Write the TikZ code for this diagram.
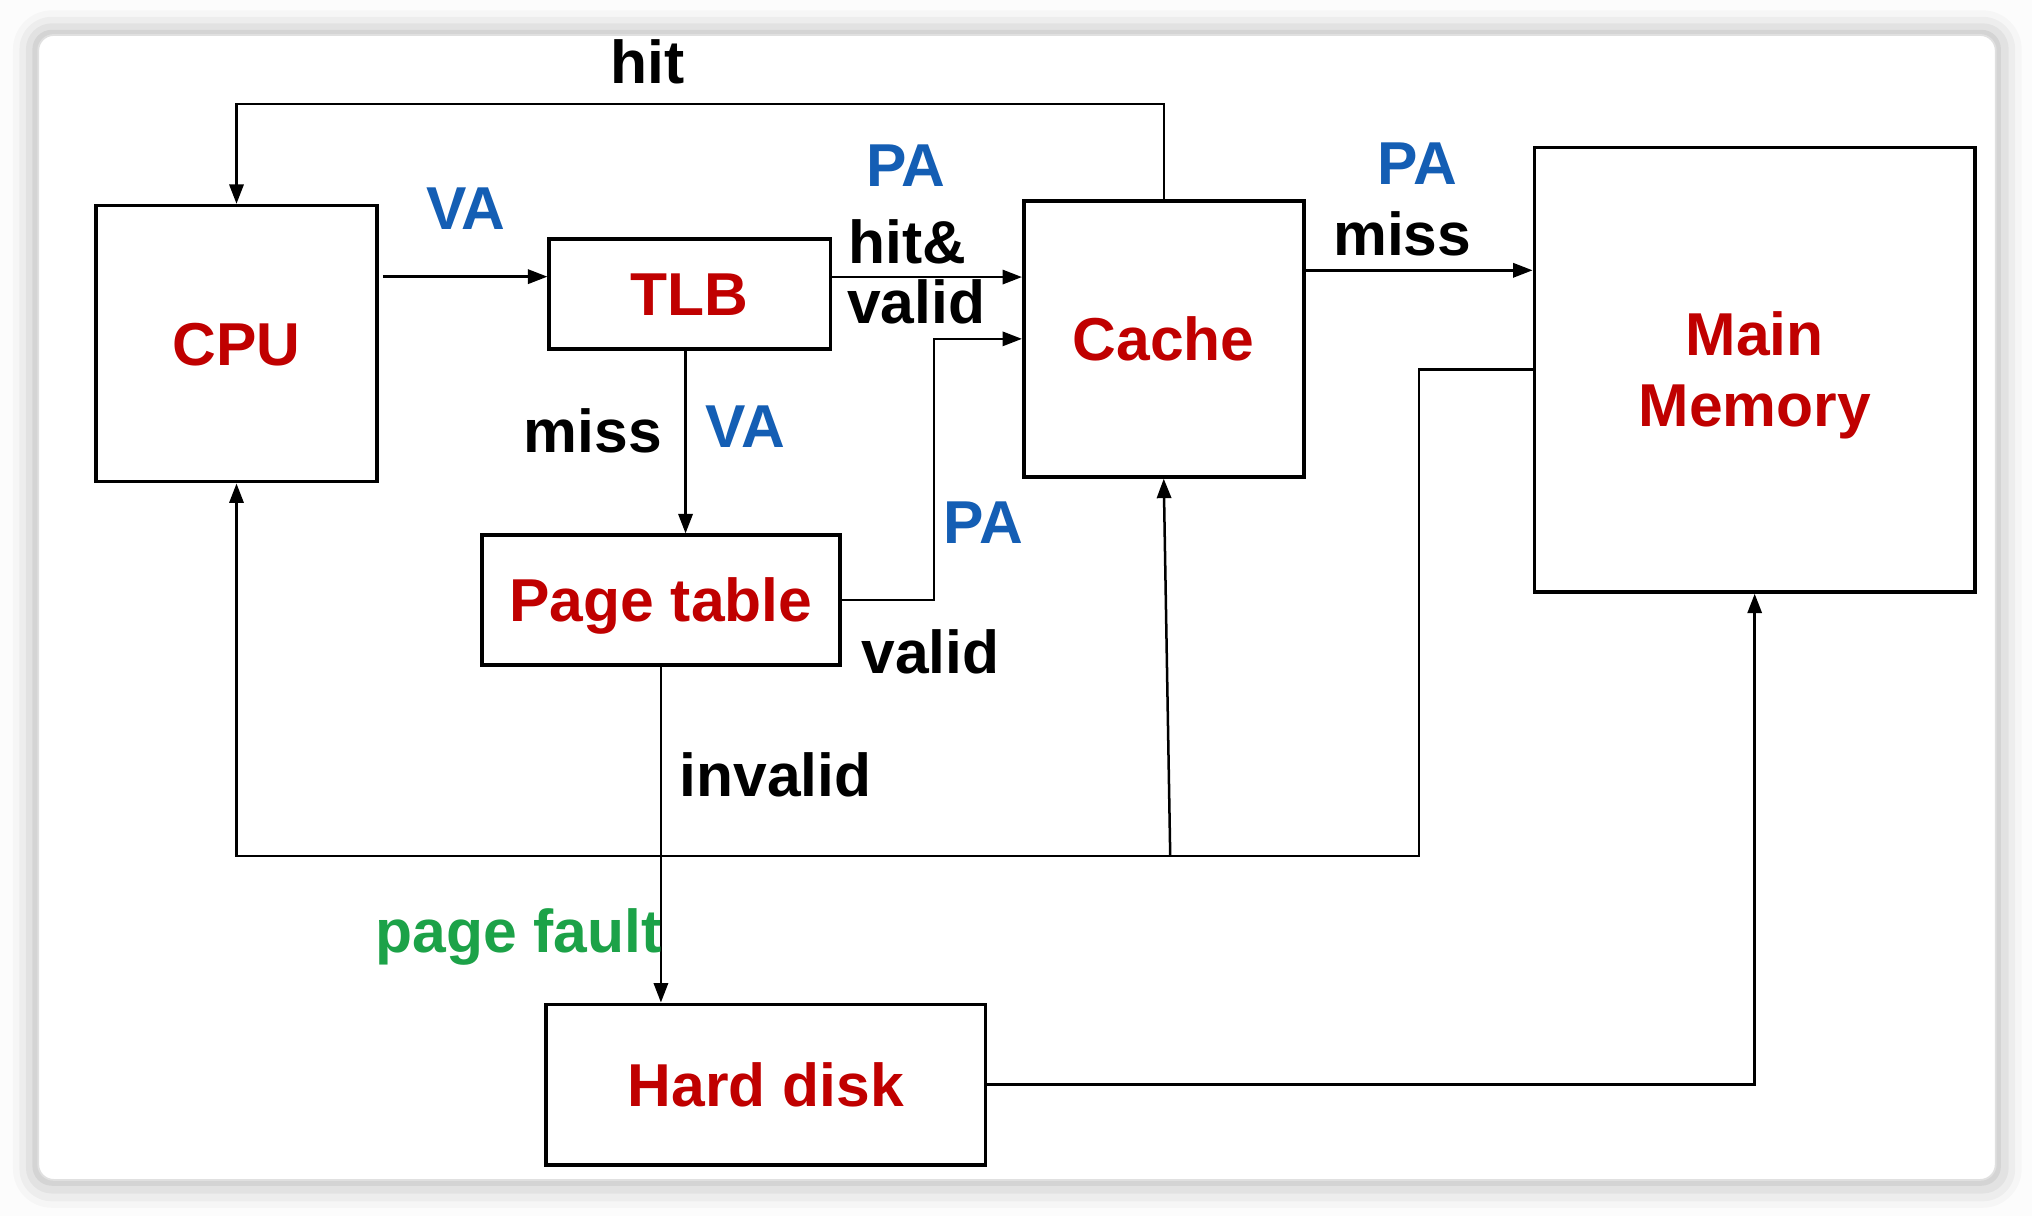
\documentclass[tikz,border=0pt]{standalone}
\usepackage{fontspec}
\setmainfont{Liberation Sans}
\usetikzlibrary{positioning}
\usetikzlibrary{arrows.meta}

\definecolor{unitred}{RGB}{192,0,0}
\definecolor{addrblue}{RGB}{20,94,180}
\definecolor{faultgreen}{RGB}{28,162,72}

\begin{document}
\begin{tikzpicture}[
        unit/.style = {draw = black, line width = 0.8pt, inner sep = 0cm, text = unitred, font = \bfseries\fontsize{13.3}{15.6}\selectfont, text height = 9.5pt, text depth = 0pt},
        tag/.style = {inner sep = 0cm, font = \bfseries\fontsize{13.3}{15.6}\selectfont, text height = 9.5pt, text depth = 0pt},
        arr/.style = {-{Triangle[length = 1.5mm, width = 1.1mm]}, line width = 0.55pt},
    ]
    \useasboundingbox (0,0) rectangle (15.68,-9.383);
    \fill[black!1] (0,0) rectangle (15.68,-9.383);
    % card and its shadow
    \fill[black, opacity = 0.025, rounded corners = 0.3cm] (0.10,-0.08) rectangle (15.60,-9.32);
    \fill[black, opacity = 0.035, rounded corners = 0.25cm] (0.15,-0.13) rectangle (15.55,-9.27);
    \fill[black, opacity = 0.045, rounded corners = 0.2cm] (0.20,-0.18) rectangle (15.50,-9.21);
    \fill[black, opacity = 0.06, rounded corners = 0.15cm] (0.25,-0.23) rectangle (15.44,-9.15);
    \fill[white, draw = black!12, line width = 0.4pt, rounded corners = 0.12cm] (0.295,-0.27) rectangle (15.40,-9.105);

    \node[unit, minimum width = 2.17cm, minimum height = 2.13cm] (cpu) at (1.825,-2.652) {CPU};
    \node[unit, minimum width = 2.17cm, minimum height = 0.85cm] (tlb) at (5.323,-2.268) {TLB};
    \node[unit, minimum width = 2.16cm, minimum height = 2.13cm] (cache) at (8.98,-2.615) {Cache};
    \node[unit, minimum width = 3.40cm, minimum height = 3.43cm, align = center, text height = 25.1pt] (mem) at (13.54,-2.853) {Main\\Memory};
    \node[unit, minimum width = 2.765cm, minimum height = 1.0cm] (pt) at (5.10,-4.63) {Page table};
    \node[unit, minimum width = 3.39cm, minimum height = 1.24cm] (disk) at (5.91,-8.37) {Hard disk};
    \coordinate (split) at (9.03,-6.605);

    \draw[arr] (cache.north) -- (cache.north |- 0,-0.802) -| (cpu.north);
    \draw[arr, shorten <= 0.03cm] (cpu.east |- 0,-2.135) -- (tlb.west |- 0,-2.135);
    \draw[arr] (tlb.east |- 0,-2.138) -- (cache.west |- 0,-2.138);
    \draw[arr] (cache.east |- 0,-2.086) -- (mem.west |- 0,-2.086);
    \draw[arr] (tlb.south -| 5.29,0) -- (pt.north -| 5.29,0);
    \draw[arr] (pt.east) -- ++(0.71,0) |- (cache.west);
    \draw[arr] (pt.south) -- (disk.north -| pt.south);
    \draw[arr] (mem.west) -| (10.95,-6.605) -| (cpu.south);
    \draw[arr] (split) -- (cache.south);
    \draw[arr] (disk.east) -| (mem.south);

    \node[tag] (hit) at (5.00,-0.475) {hit};
    \node[tag, text = addrblue] (va) at (3.595,-1.605) {VA};
    \node[tag, text = addrblue] (pahit) at (6.99,-1.27) {PA};
    \node[tag, anchor = west] (hitamp) at (6.54,-1.865) {hit\&};
    \node[tag, anchor = west] (hitvalid) at (6.53,-2.33) {valid};
    \node[tag] (tlbmiss) at (4.575,-3.325) {miss};
    \node[tag, text = addrblue] (vamiss) at (5.755,-3.29) {VA};
    \node[tag, text = addrblue] (pamiss) at (10.935,-1.26) {PA};
    \node[tag] (cachemiss) at (10.82,-1.805) {miss};
    \node[tag, text = addrblue] (pavalid) at (7.59,-4.03) {PA};
    \node[tag] (ptvalid) at (7.18,-5.03) {valid};
    \node[tag] (invalid) at (5.985,-5.98) {invalid};
    \node[tag, text = faultgreen] (fault) at (4.00,-7.18) {page fault};
\end{tikzpicture}
\end{document}
